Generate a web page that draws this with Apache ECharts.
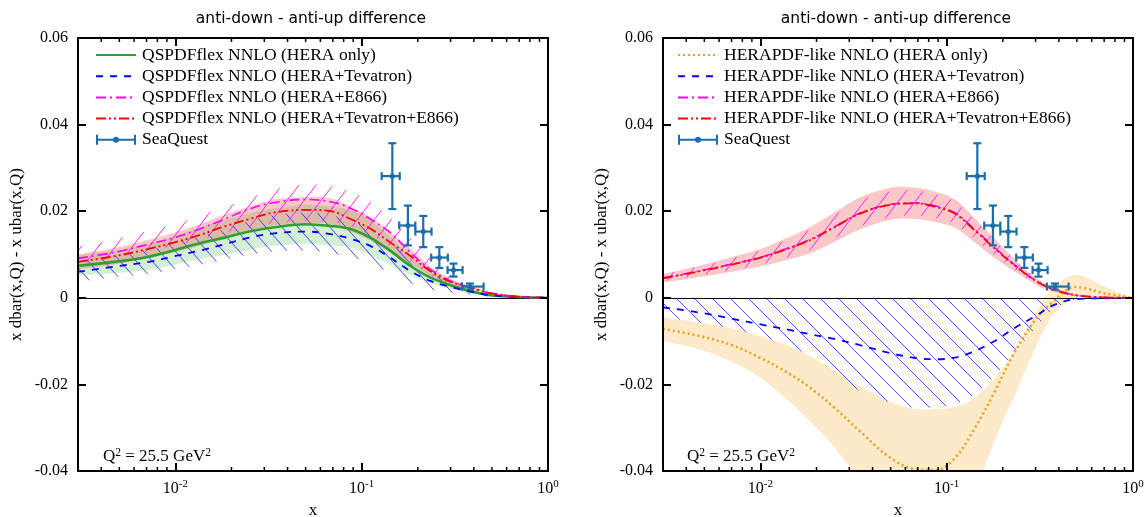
<!DOCTYPE html>
<html><head><meta charset="utf-8">
<script src="https://cdn.jsdelivr.net/npm/echarts@6/dist/echarts.min.js"></script>
<style>html,body{margin:0;padding:0;background:#fff}#c{width:1144px;height:517px}</style>
</head><body><div id="c"></div>
<script>
// ---------------- data ----------------
const titleText = 'anti-down - anti-up difference';
const yName = 'x dbar(x,Q) - x ubar(x,Q)';
const xName = 'x';
const qLabel = ['Q', '2', ' = 25.5 GeV', '2'];
const yTicks = [-0.04, -0.02, 0, 0.02, 0.04, 0.06];
const xRange = [0.003, 1];
const xMinorTicks = [0.003,0.004,0.005,0.006,0.007,0.008,0.009,0.02,0.03,0.04,0.05,0.06,0.07,0.08,0.09,0.2,0.3,0.4,0.5,0.6,0.7,0.8,0.9];

const xs = [0.003, 0.0047, 0.0072, 0.0099, 0.0135, 0.0184, 0.025, 0.034, 0.05, 0.068, 0.087, 0.111, 0.142, 0.182, 0.233, 0.3, 0.37, 0.49, 0.71, 1.0];

const leftNames = ['QSPDFflex NNLO (HERA only)', 'QSPDFflex NNLO (HERA+Tevatron)', 'QSPDFflex NNLO (HERA+E866)', 'QSPDFflex NNLO (HERA+Tevatron+E866)'];
const rightNames = ['HERAPDF-like NNLO (HERA only)', 'HERAPDF-like NNLO (HERA+Tevatron)', 'HERAPDF-like NNLO (HERA+E866)', 'HERAPDF-like NNLO (HERA+Tevatron+E866)'];
const seaName = 'SeaQuest';

// left panel: QSPDFflex
const qsHera    = [0.0074,0.0083,0.0095,0.0110,0.0126,0.0139,0.0153,0.0163,0.0170,0.0166,0.0159,0.0139,0.0109,0.0074,0.0047,0.0029,0.0017,0.0006,0.0002,0];
const qsHeraLo  = [0.0051,0.0057,0.0065,0.0077,0.0090,0.0099,0.0111,0.0120,0.0125,0.0121,0.0116,0.0099,0.0077,0.0052,0.0034,0.0021,0.0012,0.0004,0.0001,0];
const qsHeraHi  = [0.0097,0.0109,0.0125,0.0143,0.0162,0.0179,0.0195,0.0206,0.0215,0.0211,0.0202,0.0179,0.0141,0.0096,0.0060,0.0037,0.0022,0.0008,0.0003,0];
const qsTev     = [0.0060,0.0072,0.0083,0.0096,0.0109,0.0124,0.0139,0.0149,0.0153,0.0147,0.0136,0.0120,0.0093,0.0062,0.0039,0.0025,0.0016,0.0006,0.0002,0];
const qsTevLo   = [0.0038,0.0047,0.0055,0.0066,0.0076,0.0088,0.0100,0.0107,0.0109,0.0103,0.0094,0.0080,0.0058,0.0034,0.0019,0.0012,0.0008,0.0003,0.0001,0];
const qsTevHi   = [0.0082,0.0097,0.0111,0.0126,0.0142,0.0160,0.0178,0.0191,0.0197,0.0191,0.0178,0.0160,0.0128,0.0090,0.0059,0.0038,0.0024,0.0009,0.0003,0];
const qsE866    = [0.0091,0.0105,0.0124,0.0139,0.0159,0.0182,0.0205,0.0220,0.0227,0.0222,0.0207,0.0182,0.0151,0.0105,0.0066,0.0039,0.0025,0.0011,0.0002,0];
const qsE866Lo  = [0.0080,0.0092,0.0108,0.0120,0.0135,0.0150,0.0163,0.0172,0.0178,0.0175,0.0165,0.0145,0.0120,0.0085,0.0052,0.0030,0.0018,0.0006,0.0001,0];
const qsE866Hi  = [0.0118,0.0135,0.0155,0.0170,0.0190,0.0210,0.0230,0.0250,0.0262,0.0258,0.0245,0.0222,0.0185,0.0140,0.0092,0.0052,0.0032,0.0012,0.0003,0];
const qsAll     = [0.0083,0.0096,0.0113,0.0128,0.0145,0.0165,0.0182,0.0197,0.0203,0.0200,0.0182,0.0160,0.0128,0.0097,0.0062,0.0037,0.0026,0.0011,0.0002,0];
const qsAllLo   = [0.0066,0.0077,0.0092,0.0105,0.0120,0.0138,0.0153,0.0167,0.0173,0.0170,0.0153,0.0133,0.0105,0.0080,0.0051,0.0030,0.0022,0.0009,0.0001,0];
const qsAllHi   = [0.0100,0.0115,0.0134,0.0151,0.0170,0.0192,0.0211,0.0227,0.0233,0.0230,0.0211,0.0187,0.0151,0.0114,0.0073,0.0044,0.0030,0.0013,0.0003,0];

// right panel: HERAPDF-like
const hpHera    = [-0.0072,-0.0088,-0.0111,-0.0138,-0.0169,-0.0207,-0.0254,-0.0307,-0.0370,-0.0396,-0.0398,-0.0370,-0.0300,-0.0215,-0.0123,-0.0050,-0.0010,0.0025,0.0010,0];
const hpHeraLo  = [-0.0099,-0.0119,-0.0150,-0.0184,-0.0230,-0.0284,-0.0346,-0.0420,-0.0500,-0.0560,-0.0580,-0.0550,-0.0450,-0.0327,-0.0223,-0.0115,-0.0042,0.0000,0.0002,0];
const hpHeraHi  = [-0.0045,-0.0057,-0.0072,-0.0088,-0.0107,-0.0134,-0.0169,-0.0203,-0.0240,-0.0257,-0.0257,-0.0252,-0.0230,-0.0184,-0.0120,-0.0035,0.0020,0.0053,0.0025,0];
const hpTev     = [-0.0022,-0.0034,-0.0049,-0.0061,-0.0072,-0.0084,-0.0095,-0.0109,-0.0128,-0.0139,-0.0142,-0.0138,-0.0123,-0.0099,-0.0069,-0.0042,-0.0018,-0.0003,-0.0001,0];
const hpTevLo   = [-0.0045,-0.0057,-0.0072,-0.0088,-0.0107,-0.0134,-0.0175,-0.0215,-0.0242,-0.0254,-0.0253,-0.0245,-0.0222,-0.0180,-0.0125,-0.0070,-0.0030,-0.0005,-0.0001,0];
const hpTevHi   = [0,0,0,0,0,0,0,0,0,0,0,0,0,0,0,0,0,0,0,0];
const hpE866    = [0.0046,0.0062,0.0079,0.0093,0.0112,0.0134,0.0164,0.0195,0.0216,0.0219,0.0212,0.0196,0.0157,0.0115,0.0075,0.0040,0.0021,0.0006,0.0001,0];
const hpE866Lo  = [0.0038,0.0052,0.0065,0.0077,0.0092,0.0110,0.0137,0.0165,0.0186,0.0190,0.0184,0.0170,0.0135,0.0097,0.0064,0.0034,0.0017,0.0004,0,0];
const hpE866Hi  = [0.0054,0.0072,0.0093,0.0109,0.0132,0.0158,0.0191,0.0225,0.0246,0.0248,0.0240,0.0222,0.0179,0.0133,0.0086,0.0046,0.0025,0.0008,0.0002,0];
const hpAll     = [0.0045,0.0061,0.0078,0.0092,0.0111,0.0133,0.0163,0.0194,0.0215,0.0218,0.0210,0.0194,0.0155,0.0113,0.0074,0.0039,0.0020,0.0006,0.0001,0];
const hpAllLo   = [0.0035,0.0048,0.0061,0.0072,0.0086,0.0103,0.0129,0.0157,0.0180,0.0182,0.0175,0.0161,0.0127,0.0091,0.0060,0.0031,0.0015,0.0004,0.0000,0];
const hpAllHi   = [0.0055,0.0074,0.0095,0.0112,0.0136,0.0163,0.0197,0.0231,0.0254,0.0254,0.0245,0.0227,0.0183,0.0135,0.0088,0.0047,0.0025,0.0008,0.0002,0];

// SeaQuest points
const sqX   = [0.146, 0.177, 0.214, 0.261, 0.311, 0.381];
const sqY   = [0.0281, 0.0167, 0.0153, 0.0093, 0.0064, 0.0026];
const sqErr = [0.0076, 0.0046, 0.0036, 0.0024, 0.0015, 0.0007];
const sqXlo = [0.128, 0.159, 0.194, 0.236, 0.289, 0.345];
const sqXhi = [0.160, 0.194, 0.237, 0.290, 0.348, 0.451];

// ---------------- styles ----------------
const SERIF = 'Liberation Serif';
const C = {green:'#2f9f2f', blue:'#0000ff', magenta:'#ff00ff', red:'#ff0000', orange:'#eaa21a', sea:'#1a6faa'};
const DASH = {blue:[7,7], magenta:[10,4,2,4], red:[10,3,2,3,2,3], orange:[2,3]};

function hatch(color, d, slope, dir, lw) {
  const w = d, h = Math.round(d * slope);
  const c = document.createElement('canvas');
  c.width = w; c.height = h;
  const ctx = c.getContext('2d');
  ctx.strokeStyle = color; ctx.lineWidth = lw;
  for (let k = -1; k <= 1; k++) {
    ctx.beginPath();
    if (dir === 'back') { ctx.moveTo(k*w - w, -h); ctx.lineTo(k*w + 2*w, 2*h); }
    else { ctx.moveTo(k*w - w, 2*h); ctx.lineTo(k*w + 2*w, -h); }
    ctx.stroke();
  }
  return {image: c, repeat: 'repeat'};
}

const pairs = ys => xs.map((x, i) => [x, ys[i]]);

// Catmull-Rom style smoothing of a pixel polyline into bezier path commands
function smoothSeg(pts) {
  let d = '';
  const f = 0.35 / 2;
  for (let i = 0; i < pts.length - 1; i++) {
    const p0 = pts[i - 1] || pts[i], p1 = pts[i], p2 = pts[i + 1], p3 = pts[i + 2] || pts[i + 1];
    const c1x = p1[0] + (p2[0] - p0[0]) * f, c1y = p1[1] + (p2[1] - p0[1]) * f;
    const c2x = p2[0] - (p3[0] - p1[0]) * f, c2y = p2[1] - (p3[1] - p1[1]) * f;
    d += 'C' + c1x.toFixed(2) + ',' + c1y.toFixed(2) + ' ' + c2x.toFixed(2) + ',' + c2y.toFixed(2) + ' ' + p2[0].toFixed(2) + ',' + p2[1].toFixed(2);
  }
  return d;
}

// uncertainty band: one filled path through the axis scales
function band(id, g, lo, hi, fill, z) {
  return {type: 'custom', name: id, xAxisIndex: 2*g, yAxisIndex: 2*g, clip: true, silent: true, z: z,
    data: xs.map((x, i) => [x, lo[i], hi[i]]), encode: {x: 0, y: [1, 2]},
    renderItem: function (params, api) {
      if (params.dataIndexInside !== 0) return;
      const up = xs.map((x, i) => api.coord([x, hi[i]]));
      const dn = xs.map((x, i) => api.coord([x, lo[i]])).reverse();
      const d = 'M' + up[0][0].toFixed(2) + ',' + up[0][1].toFixed(2) + smoothSeg(up) +
                'L' + dn[0][0].toFixed(2) + ',' + dn[0][1].toFixed(2) + smoothSeg(dn) + 'Z';
      return {type: 'path', shape: {pathData: d}, style: {fill: fill, stroke: null}};
    }
  };
}

function curve(name, g, ys, color, width, dash, extra) {
  return Object.assign({type:'line', name: name, xAxisIndex: 2*g, yAxisIndex: 2*g, data: pairs(ys),
    smooth: 0.35, symbol: 'none', showSymbol: false, z: 5, animation: false,
    lineStyle: {color: color, width: width, type: dash || 'solid'}, itemStyle: {color: color}}, extra || {});
}

function seaQuest(g) {
  return {type:'custom', name: seaName, xAxisIndex: 2*g, yAxisIndex: 2*g, z: 8,
    itemStyle: {color: C.sea},
    dimensions: ['x','y','err','xlo','xhi'], encode: {x: 0, y: 1},
    data: sqX.map((x, i) => [x, sqY[i], sqErr[i], sqXlo[i], sqXhi[i]]),
    renderItem: function (params, api) {
      const x = api.value(0), y = api.value(1), e = api.value(2);
      const c = api.coord([x, y]);
      const t = api.coord([x, y + e]);
      const b = api.coord([x, y - e]);
      const l = api.coord([api.value(3), y]);
      const r = api.coord([api.value(4), y]);
      const st = {stroke: C.sea, lineWidth: 2.2};
      const cap = 4;
      const L = (x1, y1, x2, y2) => ({type: 'line', shape: {x1, y1, x2, y2}, style: st});
      return {type: 'group', children: [
        L(c[0], t[1], c[0], b[1]), L(c[0]-cap, t[1], c[0]+cap, t[1]), L(c[0]-cap, b[1], c[0]+cap, b[1]),
        L(l[0], c[1], r[0], c[1]), L(l[0], c[1]-cap, l[0], c[1]+cap), L(r[0], c[1]-cap, r[0], c[1]+cap),
        {type: 'circle', shape: {cx: c[0], cy: c[1], r: 2.6}, style: {fill: C.sea}}
      ]};
    }
  };
}

function minorTicks(g) {
  return {type: 'custom', name: 'minor' + g, xAxisIndex: 2*g, yAxisIndex: 2*g, z: 12, silent: true,
    data: xMinorTicks.map(v => [v, 0]),
    renderItem: function (params, api) {
      const v = api.value(0);
      const pb = api.coord([v, yTicks[0]]);
      const pt = api.coord([v, yTicks[yTicks.length - 1]]);
      const st = {stroke: '#000', lineWidth: 1.5};
      return {type: 'group', children: [
        {type: 'line', shape: {x1: pb[0], y1: pb[1], x2: pb[0], y2: pb[1] - 4}, style: st},
        {type: 'line', shape: {x1: pt[0], y1: pt[1], x2: pt[0], y2: pt[1] + 4}, style: st}
      ]};
    }
  };
}

const zeroLine = {silent: true, symbol: 'none', label: {show: false},
  lineStyle: {color: '#000', width: 1, type: 'solid'}, data: [{yAxis: 0}]};

const grids = [
  {left: 78, top: 38, width: 470, height: 433, containLabel: false, outerBoundsMode: 'none'},
  {left: 663, top: 38, width: 470, height: 433, containLabel: false, outerBoundsMode: 'none'}
];

const supRich = {
  b: {fontFamily: SERIF, fontSize: 16, color: '#000', lineHeight: 20},
  s: {fontFamily: SERIF, fontSize: 11, color: '#000', lineHeight: 10, verticalAlign: 'top'}
};
const qRich = {
  b: {fontFamily: SERIF, fontSize: 17, color: '#000', lineHeight: 20},
  s: {fontFamily: SERIF, fontSize: 11.5, color: '#000', lineHeight: 10, verticalAlign: 'top'}
};

function xAx(g, pos) {
  const bottom = pos === 'bottom';
  return {type: 'log', logBase: 10, gridIndex: g, position: pos, min: xRange[0], max: xRange[1], z: 10,
    axisLine: {show: true, onZero: false, lineStyle: {color: '#000', width: 2}},
    axisTick: {show: true, inside: true, length: 8, lineStyle: {color: '#000', width: 2}},
    splitLine: {show: false},
    axisLabel: {show: bottom, margin: 8, showMinLabel: false, rich: supRich,
      formatter: function (v) {
        const lg = Math.log10(v), e = Math.round(lg);
        if (Math.abs(lg - e) > 1e-6) return '';
        return '{b|10}{s|' + e + '}';
      }},
    name: bottom ? xName : '', nameLocation: 'middle', nameGap: 30,
    nameTextStyle: {fontFamily: SERIF, fontSize: 17, color: '#000'}
  };
}
function yAx(g, pos) {
  const left = pos === 'left';
  return {type: 'value', gridIndex: g, position: pos, min: yTicks[0], max: yTicks[yTicks.length - 1], interval: 0.02, z: 10,
    axisLine: {show: true, onZero: false, lineStyle: {color: '#000', width: 2}},
    axisTick: {show: true, inside: true, length: 8, lineStyle: {color: '#000', width: 2}},
    splitLine: {show: false},
    axisLabel: {show: left, fontFamily: SERIF, fontSize: 16, color: '#000', margin: 10},
    name: left ? yName : '', nameLocation: 'middle', nameGap: 53,
    nameTextStyle: {fontFamily: SERIF, fontSize: 17, color: '#000'}
  };
}

function legendCfg(names, left) {
  return {orient: 'vertical', left: left, top: 46, padding: 0, itemWidth: 40, itemHeight: 10, itemGap: 3.2,
    selectedMode: false, itemStyle: {opacity: 0},
    textStyle: {fontFamily: SERIF, fontSize: 17.5, color: '#000', padding: [0, 0, 0, 1]},
    data: names.map(n => ({name: n})).concat([{name: seaName,
      icon: 'path://M0,3L2,3L2,7L38,7L38,3L40,3L40,13L38,13L38,9L2,9L2,13L0,13Z M17,8A3,3 0 1,1 23,8A3,3 0 1,1 17,8Z',
      itemStyle: {opacity: 1, color: C.sea}}])
  };
}

const greenFill = 'rgba(60,180,60,0.22)';
const pinkFill = 'rgba(235,50,50,0.27)';
const orangeFill = 'rgba(245,178,70,0.28)';

const series = [
  // left
  band('qsHeraBand', 0, qsHeraLo, qsHeraHi, greenFill, 1),
  band('qsAllBand', 0, qsAllLo, qsAllHi, pinkFill, 2),
  band('qsTevBand', 0, qsTevLo, qsTevHi, hatch('rgba(30,30,255,0.8)', 16, 1.15, 'back', 1), 3),
  band('qsE866Band', 0, qsE866Lo, qsE866Hi, hatch('rgba(255,0,255,0.85)', 17, 1.3, 'fwd', 1), 3),
  curve(leftNames[0], 0, qsHera, C.green, 2.6, 'solid', {markLine: zeroLine}),
  curve(leftNames[1], 0, qsTev, C.blue, 1.8, DASH.blue),
  curve(leftNames[2], 0, qsE866, C.magenta, 1.6, DASH.magenta),
  curve(leftNames[3], 0, qsAll, C.red, 1.8, DASH.red),
  seaQuest(0), minorTicks(0),
  // right
  band('hpHeraBand', 1, hpHeraLo, hpHeraHi, orangeFill, 1),
  band('hpAllBand', 1, hpAllLo, hpAllHi, pinkFill, 2),
  band('hpTevBand', 1, hpTevLo, hpTevHi, hatch('rgba(30,30,255,0.75)', 18, 1.0, 'back', 1), 3),
  band('hpE866Band', 1, hpE866Lo, hpE866Hi, hatch('rgba(255,0,255,0.85)', 17, 1.3, 'fwd', 1), 3),
  curve(rightNames[0], 1, hpHera, C.orange, 2.6, DASH.orange, {markLine: zeroLine}),
  curve(rightNames[1], 1, hpTev, C.blue, 1.8, DASH.blue),
  curve(rightNames[2], 1, hpE866, C.magenta, 1.6, DASH.magenta),
  curve(rightNames[3], 1, hpAll, C.red, 1.8, DASH.red),
  seaQuest(1), minorTicks(1)
];

const chart = echarts.init(document.getElementById('c'), null, {renderer: 'canvas'});
chart.setOption({
  animation: false,
  backgroundColor: '#fff',
  title: [
    {text: titleText, left: 306, top: 6, textAlign: 'center', textStyle: {fontFamily: 'DejaVu Sans', fontSize: 15.5, fontWeight: 'normal', color: '#000'}},
    {text: titleText, left: 891, top: 6, textAlign: 'center', textStyle: {fontFamily: 'DejaVu Sans', fontSize: 15.5, fontWeight: 'normal', color: '#000'}}
  ],
  grid: grids,
  xAxis: [xAx(0, 'bottom'), xAx(0, 'top'), xAx(1, 'bottom'), xAx(1, 'top')],
  yAxis: [yAx(0, 'left'), yAx(0, 'right'), yAx(1, 'left'), yAx(1, 'right')],
  legend: [legendCfg(leftNames, 95), legendCfg(rightNames, 677)],
  graphic: [0, 1].map(g => ({
    type: 'text', left: g === 0 ? 103 : 687, top: 447, z: 20,
    style: {text: '{b|' + qLabel[0] + '}{s|' + qLabel[1] + '}{b|' + qLabel[2] + '}{s|' + qLabel[3] + '}', rich: qRich}
  })),
  series: series
});
</script></body></html>
